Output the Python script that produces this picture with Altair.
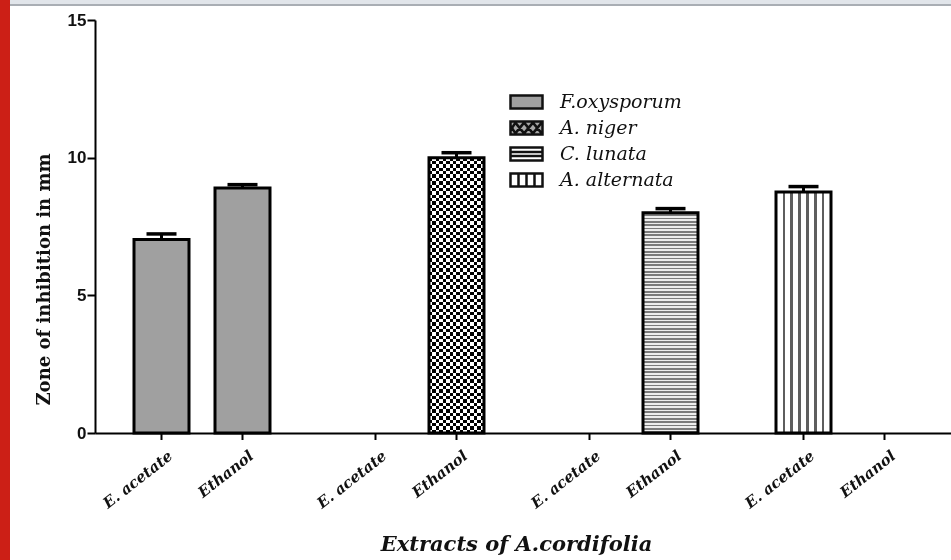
import altair as alt
import pandas as pd

# ---- data -----------------------------------------------------------------
fungi = ["F.oxysporum", "A. niger", "C. lunata", "A. alternata"]
extracts = ["E. acetate", "Ethanol"]

# zone of inhibition (mm), ordered as `extracts`; None = no zone recorded
zone_f_oxysporum = [7.03, 8.90]
zone_a_niger = [None, 10.00]
zone_c_lunata = [None, 8.00]
zone_a_alternata = [8.75, None]

# standard error of each mean
err_f_oxysporum = [0.20, 0.12]
err_a_niger = [None, 0.18]
err_c_lunata = [None, 0.15]
err_a_alternata = [0.20, None]

zones = [zone_f_oxysporum, zone_a_niger, zone_c_lunata, zone_a_alternata]
errs = [err_f_oxysporum, err_a_niger, err_c_lunata, err_a_alternata]

rows = []
for fungus, zone, err in zip(fungi, zones, errs):
    for extract, z, e in zip(extracts, zone, err):
        rows.append({"fungus": fungus, "extract": extract, "zone": z, "err": e})
df = pd.DataFrame(rows)

# ---- hatch fills (linear gradients with hard stops) -------------------------
def band_fill(intervals, dark, light, along_x):
    stops = [{"offset": 0, "color": light}]
    for a, b in intervals:
        a, b = round(max(a, 0), 4), round(min(b, 1), 4)
        stops += [
            {"offset": a, "color": light},
            {"offset": a, "color": dark},
            {"offset": b, "color": dark},
            {"offset": b, "color": light},
        ]
    stops.append({"offset": 1, "color": light})
    coords = {"x1": 0, "y1": 0, "x2": 1, "y2": 0} if along_x else {"x1": 0, "y1": 0, "x2": 0, "y2": 1}
    return {"gradient": "linear", **coords, "stops": stops}


def stripes(n, dark, light, along_x, dark_frac=0.5):
    return band_fill([((i + 1 - dark_frac) / n, (i + 1) / n) for i in range(n)], dark, light, along_x)


def lines(n_cells, width_frac, dark, light, along_x):
    return band_fill(
        [(k / n_cells - width_frac / 2, k / n_cells + width_frac / 2) for k in range(1, n_cells)],
        dark, light, along_x,
    )


FOX_GRAY = "#a0a0a0"
fill_c_lunata = stripes(66, "#7c7c7c", "#eeeeee", along_x=False, dark_frac=0.5)
fill_a_alternata = lines(7, 0.045, "#5e5e5e", "#ffffff", along_x=True)
fill_niger_cols = stripes(8, "#000000", "#ffffff", along_x=True)
fill_niger_rows = stripes(41, "#000000", "#ffffff", along_x=False)

# legend swatches: outline plus inner hatch strokes (unit box is 2 x 0.8)
BOX = "M-1,-0.4H1V0.4H-1Z"
swatch_shapes = [
    BOX,
    BOX + " M-1,-0.15L-0.65,0.4 M-0.75,-0.4L-0.1,0.4 M-0.2,-0.4L0.45,0.4 M0.35,-0.4L1,0.4"
    + " M-1,0.15L-0.65,-0.4 M-0.75,0.4L-0.1,-0.4 M-0.2,0.4L0.45,-0.4 M0.35,0.4L1,-0.4",
    BOX + " M-1,-0.13H1 M-1,0.13H1",
    BOX + " M-0.5,-0.4V0.4 M0,-0.4V0.4 M0.5,-0.4V0.4",
]
swatch_fills = [FOX_GRAY, "#a8a8a8", "#ffffff", "#ffffff"]

# ---- chart -------------------------------------------------------------------
W, H = 856, 413
SERIF = "DejaVu Serif"

x_enc = alt.X(
    "fungus:N",
    scale=alt.Scale(domain=fungi, paddingInner=0, paddingOuter=0),
    axis=alt.Axis(
        labels=False, ticks=False, domainColor="black", domainWidth=2,
        title="Extracts of A.cordifolia", titleFont=SERIF, titleFontStyle="italic",
        titleFontWeight="bold", titleFontSize=21, titleColor="#111",
        titleX=421, titleY=111, titleAlign="center", titleBaseline="middle",
    ),
)
xo_enc = alt.XOffset(
    "extract:N",
    scale=alt.Scale(domain=extracts, paddingInner=0.321, paddingOuter=0.4815),
)
y_enc = alt.Y(
    "zone:Q",
    scale=alt.Scale(domain=[0, 15], nice=False),
    axis=alt.Axis(
        values=[0, 5, 10, 15], grid=False, domainColor="black", domainWidth=2,
        tickColor="black", tickWidth=2, tickSize=8, labelPadding=1,
        labelFont="Liberation Sans", labelFontWeight="bold", labelFontSize=17, labelColor="#111",
        title="Zone of inhibition in mm", titleFont=SERIF, titleFontWeight="bold",
        titleFontSize=18, titleColor="#111", titleX=-51, titleY=259,
        titleAlign="center", titleBaseline="middle", titleAngle=270,
    ),
)

base = alt.Chart(df).encode(x=x_enc, xOffset=xo_enc)
valid = "isValid(datum.zone)"

bars = base.mark_bar(fill=FOX_GRAY).encode(y=y_enc).transform_filter(valid)

def hatch(fungus, fill, **kw):
    return (
        base.mark_bar(fill=fill, **kw)
        .encode(y="zone:Q")
        .transform_filter(valid)
        .transform_filter(alt.datum.fungus == fungus)
    )

pat_lunata = hatch("C. lunata", fill_c_lunata)
pat_alternata = hatch("A. alternata", fill_a_alternata)
pat_niger_a = hatch("A. niger", fill_niger_cols)
pat_niger_b = hatch("A. niger", fill_niger_rows, blend="difference")

outline = base.mark_bar(fillOpacity=0, stroke="black", strokeWidth=3).encode(
    y="zone:Q"
).transform_filter(valid)

err_base = base.transform_filter(valid).transform_calculate(upper="datum.zone + datum.err")
err_stem = err_base.mark_rule(color="black", strokeWidth=3).encode(y="zone:Q", y2="upper:Q")
err_cap = err_base.mark_tick(color="black", opacity=1, thickness=3.5, size=30).encode(y="upper:Q")

# category ticks and rotated labels under every bar slot
slot_ticks = base.mark_rule(color="black", strokeWidth=2).encode(
    y=alt.value(H), y2=alt.value(H + 7)
)
slot_labels = base.mark_text(
    angle=322, align="right", baseline="top", dx=6,
    font=SERIF, fontStyle="italic", fontWeight="bold", fontSize=15, color="#111",
).encode(y=alt.value(H + 19), text="extract:N")

# legend carrier: draws nothing itself, only feeds the fill/shape legend
key = alt.Chart(df).mark_point(
    filled=True, size=1024, strokeWidth=2.5, opacity=1
).encode(
    fill=alt.Fill("fungus:N", scale=alt.Scale(domain=fungi, range=swatch_fills), legend=None),
    stroke=alt.Stroke("fungus:N", scale=alt.Scale(domain=fungi, range=["#111111"] * 4), legend=None),
    shape=alt.Shape(
        "fungus:N",
        scale=alt.Scale(domain=fungi, range=swatch_shapes),
        legend=alt.Legend(
            title=None, orient="none", legendX=414, legendY=71, padding=0,
            symbolSize=1024, symbolStrokeColor="black", symbolStrokeWidth=2.5,
            clipHeight=22, rowPadding=4, labelOffset=16,
            labelFont=SERIF, labelFontStyle="italic", labelFontSize=19, labelColor="#111",
        ),
    ),
).transform_filter("false")

# page frame: red spine on the left, grey rule along the top
one = pd.DataFrame({"k": [0]})
red_spine = alt.Chart(one).mark_rect(color="#cc1f16").encode(
    x=alt.value(-95), x2=alt.value(-85), y=alt.value(-20), y2=alt.value(540)
)
top_band = alt.Chart(one).mark_rect(color="#e1e5ea").encode(
    x=alt.value(-85), x2=alt.value(W), y=alt.value(-20), y2=alt.value(-15)
)
top_line = alt.Chart(one).mark_rect(color="#a9aeb4").encode(
    x=alt.value(-85), x2=alt.value(W), y=alt.value(-16), y2=alt.value(-14)
)

chart = alt.layer(
    red_spine, top_band, top_line,
    bars, pat_lunata, pat_alternata, pat_niger_a, pat_niger_b, outline,
    err_stem, err_cap, slot_ticks, slot_labels, key,
).properties(
    width=W, height=H,
    autosize=alt.AutoSizeParams(type="none"),
    padding={"left": 95, "top": 20, "right": 0, "bottom": 127},
    background="white",
).configure_view(stroke=None)

chart.save("out.html", embed_options={"renderer": "svg", "actions": False})
